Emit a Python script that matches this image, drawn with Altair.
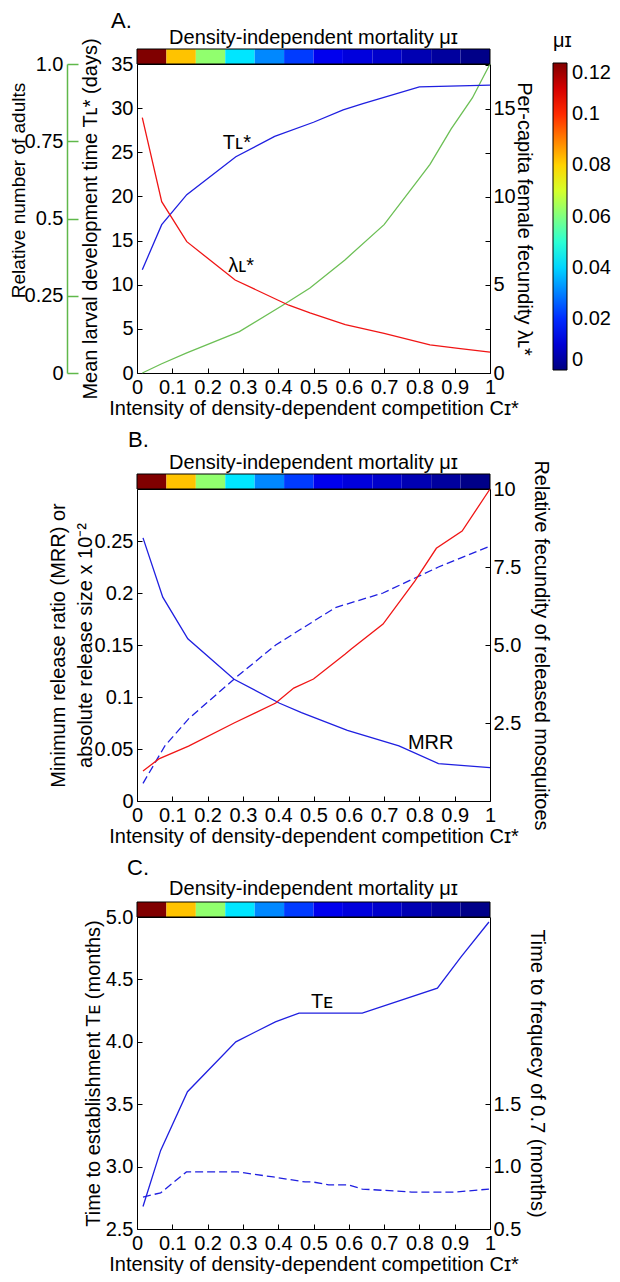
import altair as alt
import pandas as pd

FONT = "Liberation Sans"
FS = 20

# ---------------- data ----------------
X_TICKS = [0, 0.1, 0.2, 0.3, 0.4, 0.5, 0.6, 0.7, 0.8, 0.9, 1]
STRIP_MU = [0.12, 0.082, 0.062, 0.042, 0.031, 0.022, 0.013, 0.011, 0.009, 0.006, 0.0035, 0.001]
MU_TICKS = [0, 0.02, 0.04, 0.06, 0.08, 0.1, 0.12]
JET_DOMAIN = [0, 0.015, 0.045, 0.075, 0.105, 0.12]
JET_RANGE = ["#000080", "#0000ff", "#00ffff", "#ffff00", "#ff0000", "#800000"]

# Panel A
A_TL_X = [0.015, 0.07, 0.141, 0.28, 0.39, 0.50, 0.584, 0.64, 0.80, 1.0]
A_TL_Y = [11.7, 16.8, 20.2, 24.5, 26.8, 28.4, 29.8, 30.5, 32.4, 32.6]
A_LAM_X = [0.015, 0.07, 0.141, 0.278, 0.43, 0.49, 0.59, 0.70, 0.83, 0.91, 1.0]
A_LAM_Y = [14.5, 9.73, 7.46, 5.28, 3.85, 3.41, 2.75, 2.25, 1.6, 1.4, 1.19]
A_ADU_X = [0.015, 0.07, 0.141, 0.29, 0.414, 0.49, 0.589, 0.70, 0.80, 0.83, 0.89, 0.95, 1.0]
A_ADU_Y = [0.0, 0.03, 0.065, 0.134, 0.22, 0.275, 0.366, 0.48, 0.63, 0.675, 0.79, 0.89, 1.0]
A_TL_TICKS = [0, 5, 10, 15, 20, 25, 30, 35]
A_LAM_TICKS = [0, 2.5, 5, 7.5, 10, 12.5, 15, 17.5]
A_ADU_TICKS = [0, 0.25, 0.5, 0.75, 1]

# Panel B
B_MRR_X = [0.017, 0.073, 0.144, 0.275, 0.404, 0.466, 0.596, 0.742, 0.854, 1.0]
B_MRR_Y = [0.253, 0.196, 0.156, 0.117, 0.094, 0.085, 0.068, 0.053, 0.036, 0.032]
B_ABS_X = [0.017, 0.079, 0.146, 0.281, 0.393, 0.562, 0.697, 0.854, 1.0]
B_ABS_Y = [0.017, 0.053, 0.079, 0.119, 0.15, 0.186, 0.20, 0.225, 0.245]
B_FEC_X = [0.017, 0.062, 0.146, 0.275, 0.393, 0.444, 0.5, 0.59, 0.607, 0.697, 0.787, 0.848, 0.921, 1.0]
B_FEC_Y = [0.96, 1.35, 1.76, 2.5, 3.14, 3.62, 3.91, 4.71, 4.87, 5.67, 7.05, 8.1, 8.65, 10.0]
B_LEFT_TICKS = [0, 0.05, 0.1, 0.15, 0.2, 0.25]
B_RIGHT_TICKS = [0, 2.5, 5, 7.5, 10]

# Panel C
C_TE_X = [0.017, 0.067, 0.143, 0.28, 0.392, 0.459, 0.638, 0.851, 0.918, 0.997]
C_TE_Y = [2.68, 3.13, 3.6, 4.0, 4.16, 4.23, 4.23, 4.43, 4.68, 4.96]
C_F_X = [0.017, 0.067, 0.14, 0.286, 0.386, 0.476, 0.498, 0.543, 0.599, 0.638, 0.778, 0.901, 0.997]
C_F_Y = [0.756, 0.79, 0.957, 0.957, 0.917, 0.877, 0.877, 0.853, 0.853, 0.82, 0.796, 0.796, 0.82]
C_LEFT_TICKS = [2.5, 3.0, 3.5, 4.0, 4.5, 5.0]
C_RIGHT_TICKS = [0.5, 1.0, 1.5]

XTITLE = "Intensity of density-dependent competition C\u026a*"
STRIP_TITLE = "Density-independent mortality \u03bc\u026a"

# ---------------- layout constants ----------------
W = 353
HA, HB, HC = 309, 312, 312
SPACING = 116
STRIP_H = 15
BLUE = "#1f1fe0"
RED = "#f01515"
GREEN = "#6cbf55"
GAXIS = "#5fb84a"

XS = alt.Scale(domain=[0, 1], nice=False, zero=False)
dummy = pd.DataFrame({"a": [0]})


def xy(xs, ys):
    return pd.DataFrame({"x": xs, "y": ys})


def x_axis(h):
    return alt.Axis(orient="top", offset=-h, values=X_TICKS, format="~g", tickSize=5,
                    tickColor="black", labelPadding=-9, labelBaseline="top", labelAlign="center",
                    labelOverlap=False, labelFlush=False, labelFont=FONT, labelFontSize=FS,
                    labelColor="black", domain=False, grid=False, title=XTITLE, titleFont=FONT,
                    titleFontSize=FS, titleFontWeight="normal", titleColor="black", titleY=35,
                    titleBaseline="middle")


def left_axis(title, values, h, title_x, title_y=None, fmt=None, expr=None, line_height=None,
              tick=5):
    kw = dict(orient="right", offset=-W, values=values, tickSize=tick, tickColor="black",
              labelAlign="right", labelBaseline="middle", labelPadding=-(tick + 4),
              labelOverlap=False, labelFlush=False, labelFont=FONT, labelFontSize=FS,
              labelColor="black", domain=False, grid=False, title=title, titleFont=FONT,
              titleFontSize=FS, titleFontWeight="normal", titleColor="black", titleAngle=270,
              titleX=title_x, titleY=(h / 2 if title_y is None else title_y),
              titleAlign="center", titleBaseline="middle")
    if fmt:
        kw["format"] = fmt
    if expr:
        kw["labelExpr"] = expr
    if line_height:
        kw["titleLineHeight"] = line_height
    return alt.Axis(**kw)


def right_axis(title, values, h, title_x, fmt=None, expr=None, tick=5):
    kw = dict(orient="left", offset=-W, values=values, tickSize=tick, tickColor="black",
              labelAlign="left", labelBaseline="middle", labelPadding=-(tick + 3),
              labelOverlap=False, labelFlush=False, labelFont=FONT, labelFontSize=FS,
              labelColor="black", domain=False, grid=False, title=title, titleFont=FONT,
              titleFontSize=FS, titleFontWeight="normal", titleColor="black", titleAngle=90,
              titleX=title_x, titleY=h / 2, titleAlign="center", titleBaseline="middle")
    if fmt:
        kw["format"] = fmt
    if expr:
        kw["labelExpr"] = expr
    return alt.Axis(**kw)


def line(xs, ys, ydom, color, h, yaxis=None, dash=None):
    kw = dict(color=color, strokeWidth=1.3)
    if dash:
        kw["strokeDash"] = dash
    xenc = alt.X("x:Q", scale=XS, axis=x_axis(h))
    yenc = (alt.Y("y:Q", scale=alt.Scale(domain=ydom, nice=False, zero=False), axis=yaxis)
            if yaxis is not None else
            alt.Y("y:Q", scale=alt.Scale(domain=ydom, nice=False, zero=False), axis=None))
    return alt.Chart(xy(xs, ys)).mark_line(**kw).encode(x=xenc, y=yenc)


def label(text, x, y, ydom, h, size=FS, style="normal"):
    return alt.Chart(xy([x], [y])).mark_text(
        text=text, font=FONT, fontSize=size, fontStyle=style, align="center", baseline="middle",
        color="black").encode(
        x=alt.X("x:Q", scale=XS, axis=x_axis(h)),
        y=alt.Y("y:Q", scale=alt.Scale(domain=ydom, nice=False, zero=False), axis=None))


def strip(with_legend, h):
    n = len(STRIP_MU)
    sdf = pd.DataFrame({"x0": [i / n for i in range(n)], "x1": [(i + 1) / n for i in range(n)],
                        "mu": STRIP_MU})
    if with_legend:
        leg = alt.Legend(orient="none", legendX=416, legendY=-33, direction="vertical",
                         gradientLength=307, gradientThickness=14, title="\u03bc\u026a",
                         titleFont=FONT, titleFontSize=FS, titleFontWeight="normal",
                         titleColor="black", titlePadding=12, labelFont=FONT, labelFontSize=FS,
                         labelColor="black", values=MU_TICKS,
                         format=".2~f", labelOffset=5,
                         gradientStrokeColor="black", gradientStrokeWidth=1)
    else:
        leg = None
    rects = alt.Chart(sdf).mark_rect().encode(
        x=alt.X("x0:Q", scale=XS, axis=x_axis(h)), x2="x1:Q",
        y=alt.value(-STRIP_H), y2=alt.value(0),
        color=alt.Color("mu:Q", scale=alt.Scale(domain=JET_DOMAIN, range=JET_RANGE,
                                                  interpolate="rgb"), legend=leg))
    border = alt.Chart(dummy).mark_rect(fillOpacity=0, stroke="black", strokeWidth=1).encode(
        x=alt.value(0), x2=alt.value(W), y=alt.value(-STRIP_H), y2=alt.value(0))
    return rects, border


def ann(text, x, y, size=FS, align="center"):
    return alt.Chart(dummy).mark_text(text=text, font=FONT, fontSize=size, align=align,
                                      baseline="middle", color="black").encode(
        x=alt.value(x), y=alt.value(y))


# ---------------- Panel A ----------------
A_TL_DOM = [0, 35]
A_LAM_DOM = [0, 17.55]
A_ADU_DOM = [0, 1]

a_strip, a_border = strip(True, HA)
a_tl = line(A_TL_X, A_TL_Y, A_TL_DOM, BLUE, HA,
            yaxis=left_axis("Mean larval development time T\u029f* (days)", A_TL_TICKS, HA, -47,
                            fmt="d"))
a_lam = line(A_LAM_X, A_LAM_Y, A_LAM_DOM, RED, HA,
             yaxis=right_axis("Per-capita female fecundity \u03bb\u029f*", A_LAM_TICKS, HA, 33,
                              expr="datum.value % 5 === 0 ? format(datum.value, 'd') : ''"))
green_axis = alt.Axis(orient="right", offset=-(W + 70), values=A_ADU_TICKS, tickSize=11,
                      tickColor=GAXIS, tickWidth=1.5, domainColor=GAXIS, domainWidth=1.5,
                      labelAlign="right", labelBaseline="middle", labelPadding=-15,
                      labelOverlap=False, labelFlush=False, labelFont=FONT, labelFontSize=FS,
                      labelColor="black", grid=False,
                      labelExpr="datum.value === 1 ? '1.0' : format(datum.value, '~g')",
                      title="Relative number of adults", titleFont=FONT, titleFontSize=19,
                      titleFontWeight="normal", titleColor="black", titleAngle=270, titleX=-49,
                      titleY=126, titleAlign="center", titleBaseline="middle")
a_adu = line(A_ADU_X, A_ADU_Y, A_ADU_DOM, GREEN, HA, yaxis=green_axis)

panelA = alt.layer(
    a_adu, a_tl, a_lam, a_strip, a_border,
    label("T\u029f*", 0.283, 26.0, A_TL_DOM, HA),
    label("\u03bb\u029f*", 0.295, 6.1, A_LAM_DOM, HA),
    ann(STRIP_TITLE, W / 2, -26),
    ann("A.", -26, -43, size=22, align="left"),
).resolve_scale(y="independent").properties(width=W, height=HA)

# ---------------- Panel B ----------------
B_LEFT_DOM = [0, 0.3]
B_RIGHT_DOM = [0, 10]
b_strip, b_border = strip(False, HB)
b_mrr = line(B_MRR_X, B_MRR_Y, B_LEFT_DOM, BLUE, HB,
             yaxis=left_axis(["Minimum release ratio (MRR) or", "absolute release size x 10\u207b\u00b2"],
                             B_LEFT_TICKS, HB, -79, fmt=".2~f", line_height=27))
b_abs = line(B_ABS_X, B_ABS_Y, B_LEFT_DOM, BLUE, HB, dash=[8, 4])
b_fec = line(B_FEC_X, B_FEC_Y, B_RIGHT_DOM, RED, HB,
             yaxis=right_axis("Relative fecundity of released mosquitoes", B_RIGHT_TICKS, HB, 50,
                              expr="datum.value === 0 ? '' : datum.value === 10 ? '10' : format(datum.value, '.1f')"))
panelB = alt.layer(
    b_mrr, b_abs, b_fec, b_strip, b_border,
    label("MRR", 0.832, 0.056, B_LEFT_DOM, HB),
    ann(STRIP_TITLE, W / 2, -26),
    ann("B.", -9, -49, size=22, align="left"),
).resolve_scale(y="independent").properties(width=W, height=HB)

# ---------------- Panel C ----------------
C_LEFT_DOM = [2.5, 5.0]
C_RIGHT_DOM = [0.5, 3.0]
c_strip, c_border = strip(False, HC)
c_te = line(C_TE_X, C_TE_Y, C_LEFT_DOM, BLUE, HC,
            yaxis=left_axis("Time to establishment T\u1d07 (months)", C_LEFT_TICKS, HC, -44,
                            fmt=".1f"))
c_f = line(C_F_X, C_F_Y, C_RIGHT_DOM, BLUE, HC, dash=[8, 4],
           yaxis=right_axis("Time to frequecy of 0.7 (months)", C_RIGHT_TICKS, HC, 46, fmt=".1f"))
panelC = alt.layer(
    c_te, c_f, c_strip, c_border,
    label("T\u1d07", 0.524, 4.32, C_LEFT_DOM, HC),
    ann(STRIP_TITLE, W / 2, -28),
    ann("C.", -10, -49, size=22, align="left"),
).resolve_scale(y="independent").properties(width=W, height=HC)

PAD_L, PAD_T = 129, 56
TOTAL_W, TOTAL_H = 604, 1266

chart = alt.vconcat(panelA, panelB, panelC, spacing=SPACING, bounds="flush").resolve_scale(
    color="independent"
).properties(
    autosize=alt.AutoSizeParams(type="none"),
    padding={"left": PAD_L, "top": PAD_T, "right": TOTAL_W - PAD_L - W,
             "bottom": TOTAL_H - PAD_T},
).configure(font=FONT).configure_view(stroke="black", strokeWidth=1)

chart.save("out.html", embed_options={"renderer": "svg", "actions": False})
